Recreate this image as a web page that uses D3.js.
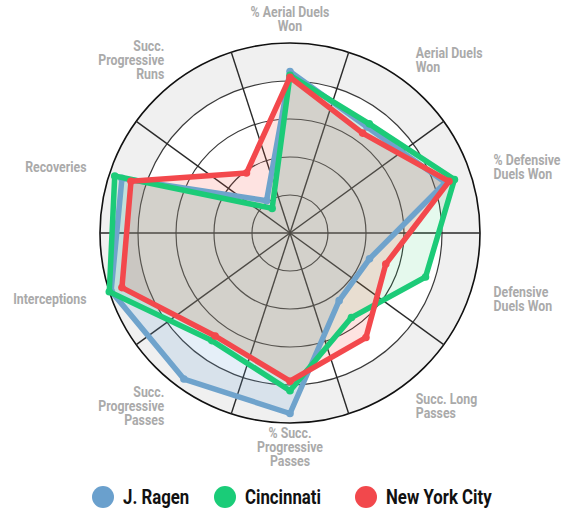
<!DOCTYPE html>
<html>
<head>
<meta charset="utf-8">
<script src="https://cdn.jsdelivr.net/npm/d3@7"></script>
<style>
  html, body { margin: 0; padding: 0; background: #ffffff; }
  svg { display: block; }
  .lbl { font-family: Roboto, "Noto Sans", sans-serif; font-weight: bold; fill: #aaaaaa; font-size: 14px; }
  .leg { font-family: Roboto, "Noto Sans", sans-serif; font-weight: bold; fill: #111; font-size: 20px; }
</style>
</head>
<body>
<svg id="chart" width="568" height="515"></svg>
<script>
// ---- data ----
const categories = [
  "% Aerial Duels Won", "Aerial Duels Won", "% Defensive Duels Won", "Defensive Duels Won",
  "Succ. Long Passes", "% Succ. Progressive Passes", "Succ. Progressive Passes",
  "Interceptions", "Recoveries", "Succ. Progressive Runs"
];
const categoryLines = [
  ["% Aerial Duels", "Won"], ["Aerial Duels", "Won"], ["% Defensive", "Duels Won"],
  ["Defensive", "Duels Won"], ["Succ. Long", "Passes"], ["% Succ.", "Progressive", "Passes"],
  ["Succ.", "Progressive", "Passes"], ["Interceptions"], ["Recoveries"],
  ["Succ.", "Progressive", "Runs"]
];
const seriesNames = ["J. Ragen", "Cincinnati", "New York City"];
const ragenValues      = [85, 69, 86, 44, 44, 95, 95, 99, 93, 21];
const cincinnatiValues = [83, 71, 91, 75, 55, 83, 70, 100, 97, 16];
const nycValues        = [82, 65, 88, 53, 68, 78, 67, 93, 88, 39];
const ringTicks = [20, 40, 60, 80, 100];

// ---- styling ----
const strokeColors = ["#6fa3cc", "#1ccb78", "#f3484c"];
const fillColors   = ["rgba(100,160,215,0.17)", "rgba(20,200,90,0.11)", "rgba(245,70,55,0.15)"];
const legendColors = ["#6aa0cd", "#1acc78", "#f2484c"];
const labelSqueeze = 0.88, legendSqueeze = 0.84;

const svg = d3.select("#chart");
const cx = 290, cy = 233, R = 190;
const n = categories.length;
const rScale = d3.scaleLinear().domain([0, 100]).range([0, R]);
const angle = d3.scaleLinear().domain([0, n]).range([0, 2 * Math.PI]);
const g = svg.append("g").attr("transform", `translate(${cx},${cy})`);

// outer gray band
g.append("path")
  .attr("d", d3.arc()({ innerRadius: rScale(80), outerRadius: rScale(100), startAngle: 0, endAngle: 2 * Math.PI }))
  .attr("fill", "#f0f0f0");

// rings
g.selectAll("circle.ring").data(ringTicks).join("circle")
  .attr("class", "ring")
  .attr("r", d => rScale(d))
  .attr("fill", "none")
  .attr("stroke", d => d === 100 ? "#111" : "#3a3a3a")
  .attr("stroke-width", d => d === 100 ? 1.6 : 1.2);

// spokes at sector boundaries
const spokeIdx = d3.range(n).map(i => i + 0.5);
g.selectAll("line.spoke").data(spokeIdx).join("line")
  .attr("class", "spoke")
  .attr("x1", 0).attr("y1", 0)
  .attr("x2", d => rScale(100) * Math.sin(angle(d)))
  .attr("y2", d => -rScale(100) * Math.cos(angle(d)))
  .attr("stroke", "#2a2a2a")
  .attr("stroke-width", 1.4);

// radar polygons
const allSeries = [ragenValues, cincinnatiValues, nycValues];
const radial = d3.lineRadial()
  .angle((d, i) => angle(i))
  .radius(d => rScale(d))
  .curve(d3.curveLinearClosed);

allSeries.forEach((vals, si) => {
  g.append("path").attr("d", radial(vals))
    .attr("fill", fillColors[si]).attr("stroke", "none");
});
allSeries.forEach((vals, si) => {
  g.append("path").attr("d", radial(vals))
    .attr("fill", "none")
    .attr("stroke", strokeColors[si])
    .attr("stroke-width", 5.5)
    .attr("stroke-linejoin", "round");
  g.selectAll(null).data(vals).join("circle")
    .attr("cx", (d, i) => rScale(d) * Math.sin(angle(i)))
    .attr("cy", (d, i) => -rScale(d) * Math.cos(angle(i)))
    .attr("r", 3.8)
    .attr("fill", strokeColors[si]);
});

// category labels
const labelR = 214, lineH = 13.8;
categoryLines.forEach((lines, i) => {
  const a = angle(i);
  const x = labelR * Math.sin(a), y = -labelR * Math.cos(a);
  const anchor = Math.abs(x) < 5 ? "middle" : (x > 0 ? "start" : "end");
  const y0 = y - (lines.length - 1) * lineH / 2;
  const t = g.append("text").attr("class", "lbl").attr("text-anchor", anchor)
    .attr("transform", `translate(${x},${y0}) scale(${labelSqueeze},1)`);
  lines.forEach((ln, j) => {
    t.append("tspan").attr("x", 0).attr("y", j * lineH).attr("dy", "0.35em").text(ln);
  });
});

// legend
const legendX = [103, 225, 366];
const lg = svg.append("g");
seriesNames.forEach((name, i) => {
  lg.append("circle").attr("cx", legendX[i]).attr("cy", 497).attr("r", 11).attr("fill", legendColors[i]);
  lg.append("text").attr("class", "leg")
    .attr("transform", `translate(${legendX[i] + 20},497) scale(${legendSqueeze},1)`)
    .attr("dy", "0.36em").text(name);
});
</script>
</body>
</html>
